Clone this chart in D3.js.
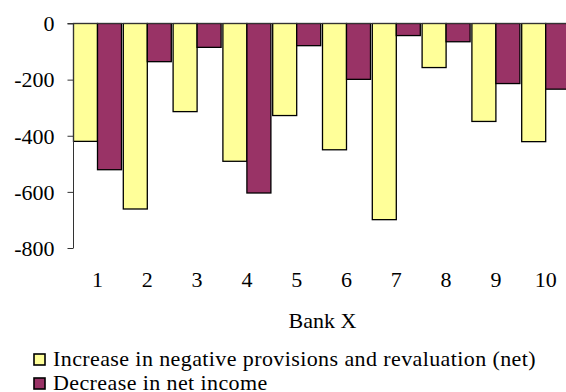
<!DOCTYPE html>
<html>
<head>
<meta charset="utf-8">
<script src="https://cdn.jsdelivr.net/npm/d3@7/dist/d3.min.js"></script>
<style>
  html, body { margin: 0; padding: 0; background: #fff; }
  svg { display: block; }
  text { font-family: "Liberation Serif", "Times New Roman", serif; fill: #000; font-size: 22px; }
</style>
</head>
<body>
<div id="chart"></div>
<script>
const categories = ["1", "2", "3", "4", "5", "6", "7", "8", "9", "10"];
const seriesNames = [
  "Increase in negative provisions and revaluation (net)",
  "Decrease in net income"
];
const provisions = [-420, -661, -314, -491, -328, -450, -699, -157, -349, -421];
const netIncome  = [-521, -136, -85, -604, -79, -199, -43, -65, -214, -234];
const yTicks = [0, -200, -400, -600, -800];
const colors = ["#FFFF99", "#993366"];
const xTitle = "Bank X";

const W = 566, H = 392;
const svg = d3.select("#chart").append("svg").attr("width", W).attr("height", H)
  .attr("font-family", "Liberation Serif").attr("font-size", 22);

const x0 = 73.5, y0 = 23.5, yBottom = 248;
const x = d3.scaleBand().domain(categories).range([x0, x0 + 498]).paddingInner(0).paddingOuter(0);
const xs = d3.scaleBand().domain([0, 1]).range([0, 48]);
const y = d3.scaleLinear().domain([-800, 0]).range([yBottom, y0]);

const data = categories.map((c, i) => ({ c, vals: [provisions[i], netIncome[i]] }));

// bars
const g = svg.append("g");
g.selectAll("g.grp").data(data).join("g").attr("class", "grp")
  .attr("transform", d => `translate(${x(d.c)},0)`)
  .selectAll("rect").data(d => d.vals.map((v, k) => ({ v, k })))
  .join("rect")
  .attr("x", d => xs(d.k))
  .attr("width", xs.bandwidth())
  .attr("y", d => y(0))
  .attr("height", d => y(d.v) - y(0))
  .attr("fill", d => colors[d.k])
  .attr("stroke", "#000")
  .attr("stroke-width", 1.3);

// y axis
const yAxis = d3.axisLeft(y).tickValues(yTicks).tickSize(6).tickFormat(d => d === 0 ? "0" : "-" + Math.abs(d));
const ya = svg.append("g").attr("transform", `translate(${x0},0)`).call(yAxis);
ya.attr("font-family", "Liberation Serif").attr("font-size", 22);
ya.select(".domain").attr("stroke", "#333").attr("d", `M0,${y0}V${yBottom}`);
ya.selectAll(".tick line").attr("stroke", "#333");
ya.selectAll(".tick text")
  .attr("x", -19)
  .attr("dy", "0.33em")
  .attr("fill", "#000")
  .style("font-family", "'Liberation Serif', serif")
  .style("font-size", "22px");

// zero line (category axis at top)
svg.append("line")
  .attr("x1", x0 - 6).attr("x2", W)
  .attr("y1", y(0)).attr("y2", y(0))
  .attr("stroke", "#333").attr("stroke-width", 1);

// x tick labels
svg.append("g").selectAll("text").data(categories).join("text")
  .attr("x", d => x(d) + 24)
  .attr("y", 287)
  .attr("text-anchor", "middle")
  .text(d => d);

// x title
svg.append("text")
  .attr("x", 322.5).attr("y", 328)
  .attr("text-anchor", "middle")
  .text(xTitle);

// legend
const leg = svg.append("g").selectAll("g").data(seriesNames).join("g")
  .attr("transform", (d, i) => `translate(34,${354 + i * 24})`);
leg.append("rect").attr("width", 11).attr("height", 11)
  .attr("fill", (d, i) => colors[i]).attr("stroke", "#000").attr("stroke-width", 1.6);
leg.append("text").attr("x", 19).attr("y", 12)
  .style("letter-spacing", "0.4px")
  .text(d => d);
</script>
</body>
</html>
